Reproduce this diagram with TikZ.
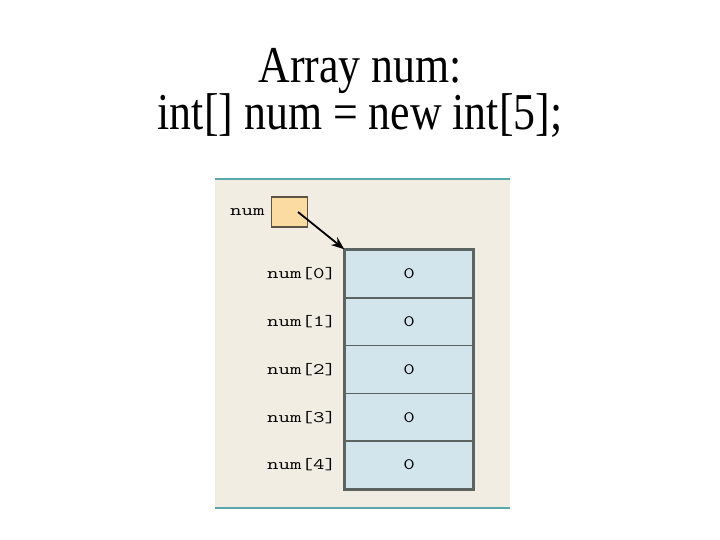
\documentclass[tikz,border=0pt]{standalone}
\usepackage{fontspec,graphicx}
\setmainfont{Liberation Serif}
\usetikzlibrary{arrows.meta}
\definecolor{panelbg}{HTML}{F1EDE2}
\definecolor{rule}{HTML}{5AA8AC}
\definecolor{reffill}{HTML}{FBDBA2}
\definecolor{refdraw}{HTML}{5E5444}
\definecolor{cellfill}{HTML}{D3E5EC}
\definecolor{celldraw}{HTML}{5C6462}
\newcommand\tallT[1]{\scalebox{1}[1.18]{#1}}
\newcommand\wideM[1]{\scalebox{1.4}[1]{\ttfamily #1}}
\tikzset{
  titletext/.style={anchor=base,font=\fontsize{44}{44}\selectfont,inner sep=0pt},
  idxlabel/.style={font=\fontsize{16}{16}\selectfont,text=black,inner sep=0pt,label distance=8bp},
  cellbox/.style={draw=celldraw,line width=1.5bp,fill=cellfill,minimum width=128bp,minimum height=47.8bp,inner sep=0pt,font=\fontsize{16}{16}\selectfont},
  refbox/.style={draw=refdraw,line width=1.5bp,fill=reffill,minimum width=36bp,minimum height=30bp,inner sep=0pt}
}
\begin{document}
\begin{tikzpicture}[x=1bp,y=-1bp]
		\useasboundingbox (0,0) rectangle (720,540);
		\node[titletext] (t1) at (360,83) {\tallT{Array num:}};
		\node[titletext] (t2) at (360,130) {\tallT{int[] num = new int[5];}};
		\fill[panelbg] (215,179) rectangle (510,508);
		\draw[rule,line width=1.2bp] (215,179) -- (510,179);
		\draw[rule,line width=2.6bp] (215,508) -- (510,508);
		\node[refbox,label={[idxlabel,label distance=6bp]left:\wideM{num}}] (num) at (289.5,212) {};
		\coordinate (tail) at (298,212);
		\node[cellbox,label={[idxlabel]left:\wideM{num[0]}}] (c0) at (409,273.9) {\wideM{0}};
		\node[cellbox,label={[idxlabel]left:\wideM{num[1]}}] (c1) at (409,321.7) {\wideM{0}};
		\node[cellbox,label={[idxlabel]left:\wideM{num[2]}}] (c2) at (409,369.5) {\wideM{0}};
		\node[cellbox,label={[idxlabel]left:\wideM{num[3]}}] (c3) at (409,417.3) {\wideM{0}};
		\node[cellbox,label={[idxlabel]left:\wideM{num[4]}}] (c4) at (409,465.1) {\wideM{0}};
		\draw[celldraw,line width=2.2bp] (c0.north west) rectangle (c4.south east);
		\draw[line width=1.8bp,-{Stealth[length=13bp,width=10bp]}] (tail) to (c0.north west);
	\end{tikzpicture}
\end{document}
